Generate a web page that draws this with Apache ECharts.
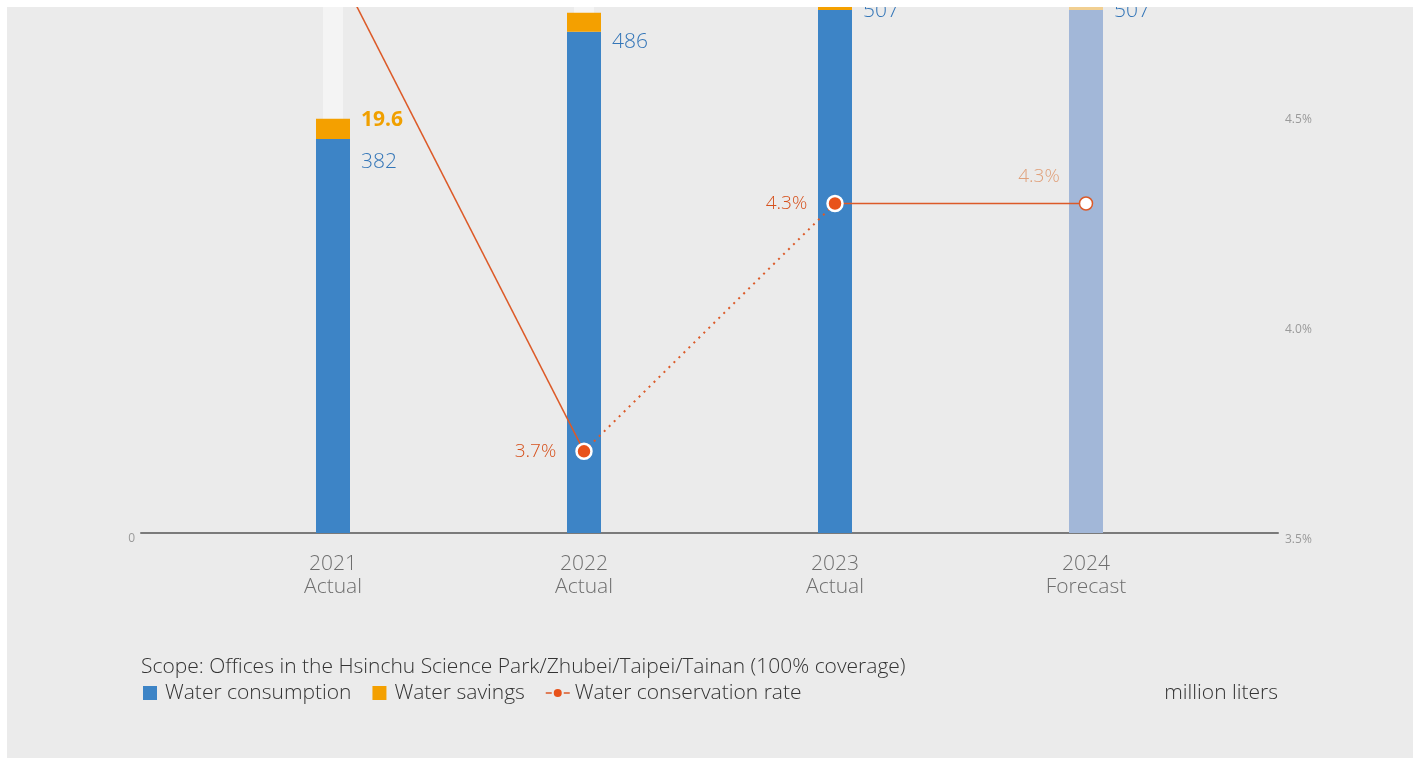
<!DOCTYPE html>
<html>
<head>
<meta charset="utf-8">
<script src="https://cdn.jsdelivr.net/npm/echarts@6/dist/echarts.min.js"></script>
<style>
html,body{margin:0;padding:0;background:#ffffff;}
#wrap{position:absolute;left:7px;top:7px;width:1406px;height:751px;background:#ebebeb;overflow:hidden;}
#chart{position:absolute;left:0;top:-120px;width:1406px;height:871px;}
</style>
</head>
<body>
<div id="wrap"><div id="chart"></div></div>
<script>
// ---- data ----
const categories = ['2021\nActual', '2022\nActual', '2023\nActual', '2024\nForecast'];
const consumption = [382, 486, 507, 507];
const savings = [19.6, 18.5, 22, 22];
const ratePct = [4.88, 3.71, 4.3, 4.3];
const ghostTop = [600, 600, 600, 600];
const leftTicks = [0];
const rightTicks = [3.5, 4.0, 4.5];
const scopeText = 'Scope: Offices in the Hsinchu Science Park/Zhubei/Taipei/Tainan (100% coverage)';
const unitText = 'million liters';

const FONT = '"Open Sans", sans-serif';
const BLUE = '#3d84c6', ORANGE = '#f4a000';
const BLUE_F = '#a2b7d8', ORANGE_F = '#f1cf91';
const RED = '#dc5a28', DOT = '#e8521a';

const chart = echarts.init(document.getElementById('chart'), null, {renderer: 'canvas'});

const blueOffsets = [23, 10, 1, 1];
const consData = consumption.map((v, i) => ({
  value: v,
  itemStyle: {color: i === 3 ? BLUE_F : BLUE},
  label: {offset: [11, blueOffsets[i]]}
}));
const savData = savings.map((v, i) => ({
  value: v,
  itemStyle: {color: i === 3 ? ORANGE_F : ORANGE},
  label: {show: i === 0}
}));

const seg1 = ratePct.map((v, i) => (i <= 1 ? v : '-'));
const seg2 = ratePct.map((v, i) => (i >= 1 && i <= 2 ? v : '-'));
const seg3 = ratePct.map((v, i) => (i >= 2 ? v : '-'));

const rateLabel = (p) => p.value.toFixed(1) + '%';

chart.setOption({
  animation: false,
  textStyle: {fontFamily: FONT},
  grid: [
    {left: 200.5, right: 201.5, top: 27.2, bottom: 225},   // bars
    {left: 200.5, right: 201.5, top: 22.5, bottom: 218.5}, // rate line
    {left: 134, right: 135, top: 27.2, bottom: 225}        // base axis
  ],
  xAxis: [
    {type: 'category', gridIndex: 0, data: categories, axisLine: {show: false}, axisTick: {show: false},
     axisLabel: {color: '#6e6e6e', fontSize: 21, fontWeight: 300, lineHeight: 23, margin: 20, fontFamily: FONT}},
    {type: 'category', gridIndex: 0, data: categories, show: false},
    {type: 'category', gridIndex: 1, data: categories, show: false},
    {type: 'value', gridIndex: 2, min: 0, max: 1, axisLine: {show: true, lineStyle: {color: '#7a7a7a', width: 2}},
     axisTick: {show: false}, axisLabel: {show: false}, splitLine: {show: false}}
  ],
  yAxis: [
    {type: 'value', gridIndex: 0, min: 0, max: 600, show: false},
    {type: 'value', gridIndex: 1, min: 3.5, max: 5.0, interval: 0.5, position: 'right', offset: 66.5,
     axisLine: {show: false}, axisTick: {show: false}, splitLine: {show: false},
     axisLabel: {color: '#9a9a9a', fontSize: 12, margin: 7, fontFamily: FONT,
       formatter: v => rightTicks.some(t => Math.abs(t - v) < 1e-6) ? v.toFixed(1) + '%' : ''}},
    {type: 'value', gridIndex: 2, min: 0, max: 600, interval: 600, position: 'left',
     axisLine: {show: false}, axisTick: {show: false}, splitLine: {show: false},
     axisLabel: {color: '#9a9a9a', fontSize: 12, margin: 6, verticalAlign: 'top', fontFamily: FONT,
       formatter: v => leftTicks.includes(v) ? String(v) : ''}}
  ],
  legend: [
    {left: 136, top: 793, padding: 0, itemWidth: 14, itemHeight: 14, itemGap: 21, icon: 'rect',
     data: ['Water consumption', 'Water savings'],
     textStyle: {color: '#333', fontSize: 21, fontWeight: 300, lineHeight: 26, padding: [0, 0, 0, 3], fontFamily: FONT}},
    {left: 538, top: 793, padding: 0, itemWidth: 24, itemHeight: 10,
     data: ['Water conservation rate'],
     itemStyle: {color: DOT, borderWidth: 0},
     lineStyle: {type: [6, 3], width: 1.5, color: RED},
     textStyle: {color: '#333', fontSize: 21, fontWeight: 300, lineHeight: 26, fontFamily: FONT}}
  ],
  graphic: [
    {type: 'text', left: 134, top: 770,
     style: {text: scopeText, fill: '#333', font: '300 21px ' + FONT}},
    {type: 'text', right: 135, top: 793,
     style: {text: unitText, fill: '#333', font: '300 21px ' + FONT, lineHeight: 26}}
  ],
  series: [
    {type: 'bar', name: 'ghost', xAxisIndex: 1, yAxisIndex: 0, data: ghostTop, barWidth: 20,
     itemStyle: {color: '#f4f4f4'}, z: 1, silent: true, legendHoverLink: false},
    {type: 'bar', name: 'Water consumption', xAxisIndex: 0, yAxisIndex: 0, stack: 'w', data: consData, barWidth: 34, z: 3,
     itemStyle: {color: BLUE},
     label: {show: true, position: ['100%', 0], align: 'left', verticalAlign: 'middle', color: '#3476b8',
       fontSize: 21, fontWeight: 300, fontFamily: FONT}},
    {type: 'bar', name: 'Water savings', xAxisIndex: 0, yAxisIndex: 0, stack: 'w', data: savData, barWidth: 34, z: 3,
     itemStyle: {color: ORANGE},
     label: {show: false, position: ['100%', 0], align: 'left', verticalAlign: 'middle', offset: [11, 1],
       color: '#f0a000', fontSize: 21, fontWeight: 'bold', fontFamily: FONT}},
    {type: 'line', name: 'Water conservation rate', xAxisIndex: 2, yAxisIndex: 1, data: seg1, z: 5,
     lineStyle: {color: RED, width: 1.5}, symbol: 'circle', symbolSize: 15,
     itemStyle: {color: DOT, borderColor: '#fff', borderWidth: 2.5},
     label: {show: true, position: 'left', distance: 19, color: '#d6511d', fontSize: 19, fontWeight: 300, fontFamily: FONT, formatter: rateLabel}},
    {type: 'line', name: 'rate-dotted', xAxisIndex: 2, yAxisIndex: 1, data: seg2, z: 4, symbol: 'none',
     lineStyle: {color: RED, width: 2, type: [2, 5]}},
    {type: 'line', name: 'rate-forecast', xAxisIndex: 2, yAxisIndex: 1, z: 5,
     data: seg3.map((v, i) => i === 3 ? {value: v, itemStyle: {color: '#fff', borderColor: RED, borderWidth: 1.5}, symbolSize: 13,
       label: {color: '#e0a07a', offset: [0, -27]}} : v),
     lineStyle: {color: RED, width: 1.5}, symbol: 'circle', symbolSize: 15,
     itemStyle: {color: DOT, borderColor: '#fff', borderWidth: 2.5},
     label: {show: true, position: 'left', distance: 19, color: '#d6511d', fontSize: 19, fontWeight: 300, fontFamily: FONT, formatter: rateLabel}}
  ]
});
</script>
</body>
</html>
